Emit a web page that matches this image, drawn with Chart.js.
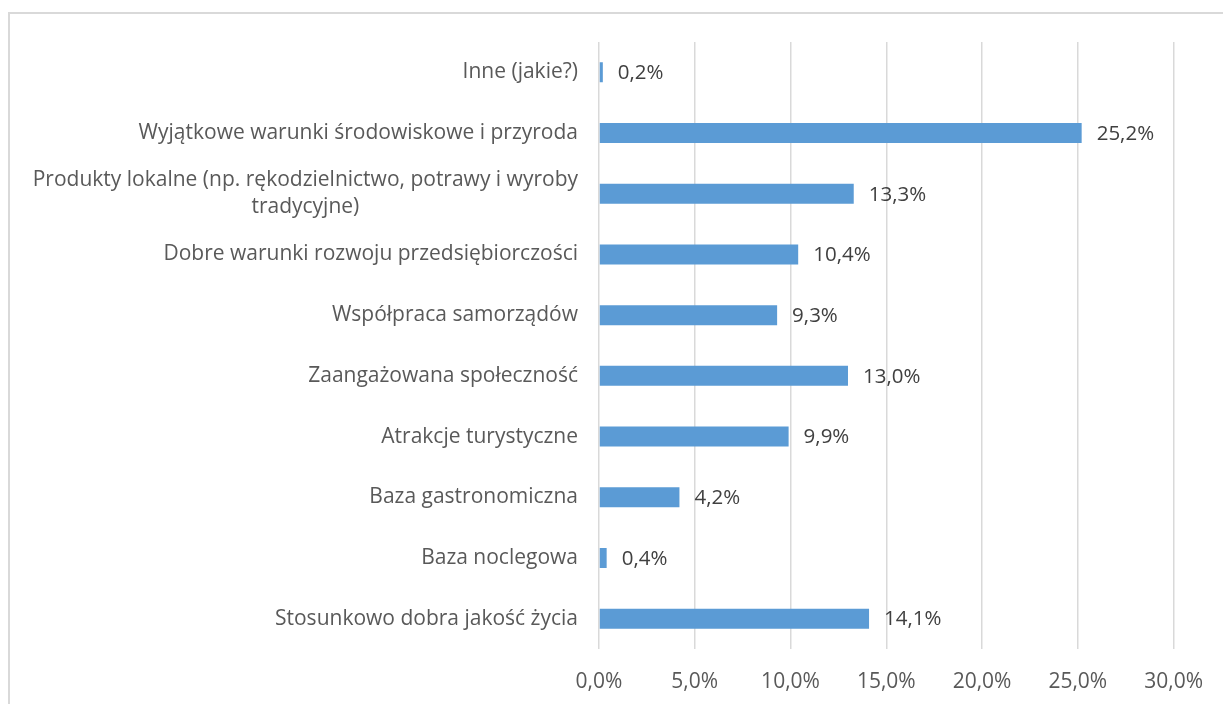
<!DOCTYPE html>
<html>
<head>
<meta charset="utf-8">
<script src="https://cdn.jsdelivr.net/npm/chart.js@4"></script>
<style>
  html, body { margin: 0; padding: 0; background: #fff; }
  #wrap { position: absolute; left: 0; top: 0; width: 1223px; height: 704px; }
  #frame { position: absolute; left: 8px; top: 12px; width: 1400px; height: 900px;
           border-left: 2px solid #d9d9d9; border-top: 2px solid #d9d9d9; }
</style>
</head>
<body>
<div id="frame"></div>
<div id="wrap"><canvas id="chart"></canvas></div>
<script>
// kategorie od góry do dołu
const categories = [
    'Inne (jakie?)',
    'Wyjątkowe warunki środowiskowe i przyroda',
    ['Produkty lokalne (np. rękodzielnictwo, potrawy i wyroby', 'tradycyjne)'],
    'Dobre warunki rozwoju przedsiębiorczości',
    'Współpraca samorządów',
    'Zaangażowana społeczność',
    'Atrakcje turystyczne',
    'Baza gastronomiczna',
    'Baza noclegowa',
    'Stosunkowo dobra jakość życia'
];
const values = [0.2, 25.2, 13.3, 10.4, 9.3, 13.0, 9.9, 4.2, 0.4, 14.1];
const xTicks = [0, 5, 10, 15, 20, 25, 30];

const FONT = '"Open Sans", Lato, sans-serif';
const fmt = v => v.toFixed(1).replace('.', ',') + '%';

// etykiety kategorii (linie wyśrodkowane w bloku, blok wyrównany do prawej)
const categoryLabels = {
    id: 'categoryLabels',
    afterDraw(chart) {
        const ctx = chart.ctx;
        const y = chart.scales.y;
        const right = 578;
        const lineH = 27;
        ctx.save();
        ctx.font = '21px ' + FONT;
        ctx.fillStyle = '#595959';
        ctx.textBaseline = 'middle';
        ctx.textAlign = 'center';
        categories.forEach((lbl, i) => {
            const lines = Array.isArray(lbl) ? lbl : [lbl];
            const w = Math.max(...lines.map(l => ctx.measureText(l).width));
            const cx = right - w / 2;
            const cy = y.getPixelForValue(i);
            const start = cy - (lines.length - 1) * lineH / 2;
            lines.forEach((l, k) => ctx.fillText(l, cx, start + k * lineH));
        });
        ctx.restore();
    }
};

// wartości przy słupkach
const valueLabels = {
    id: 'valueLabels',
    afterDatasetsDraw(chart) {
        const ctx = chart.ctx;
        const meta = chart.getDatasetMeta(0);
        ctx.save();
        ctx.font = '20.5px ' + FONT;
        ctx.fillStyle = '#404040';
        ctx.textBaseline = 'middle';
        ctx.textAlign = 'left';
        meta.data.forEach((bar, i) => {
            ctx.fillText(fmt(values[i]), bar.x + 15, bar.y + 1);
        });
        ctx.restore();
    }
};

new Chart(document.getElementById('chart'), {
    type: 'bar',
    data: {
        labels: categories,
        datasets: [{
            data: values,
            backgroundColor: '#5b9bd5',
            borderWidth: 0,
            categoryPercentage: 1,
            barPercentage: 0.33
        }]
    },
    options: {
        indexAxis: 'y',
        responsive: true,
        maintainAspectRatio: false,
        animation: false,
        layout: { padding: { left: 0, right: 47, top: 42, bottom: 0 } },
        plugins: { legend: { display: false }, tooltip: { enabled: false } },
        scales: {
            x: {
                min: 0, max: 30,
                afterBuildTicks: s => { s.ticks = xTicks.map(v => ({ value: v })); },
                afterFit: s => { s.height = 55; },
                grid: { color: '#d9d9d9', lineWidth: 1.5, drawTicks: false },
                border: { display: false },
                ticks: {
                    padding: 20,
                    color: '#595959',
                    font: { family: FONT, size: 21 },
                    callback: v => fmt(v)
                }
            },
            y: {
                afterFit: s => { s.width = 599; },
                grid: { display: false, drawTicks: false },
                border: { display: false },
                ticks: { display: false }
            }
        }
    },
    plugins: [categoryLabels, valueLabels]
});
</script>
</body>
</html>
